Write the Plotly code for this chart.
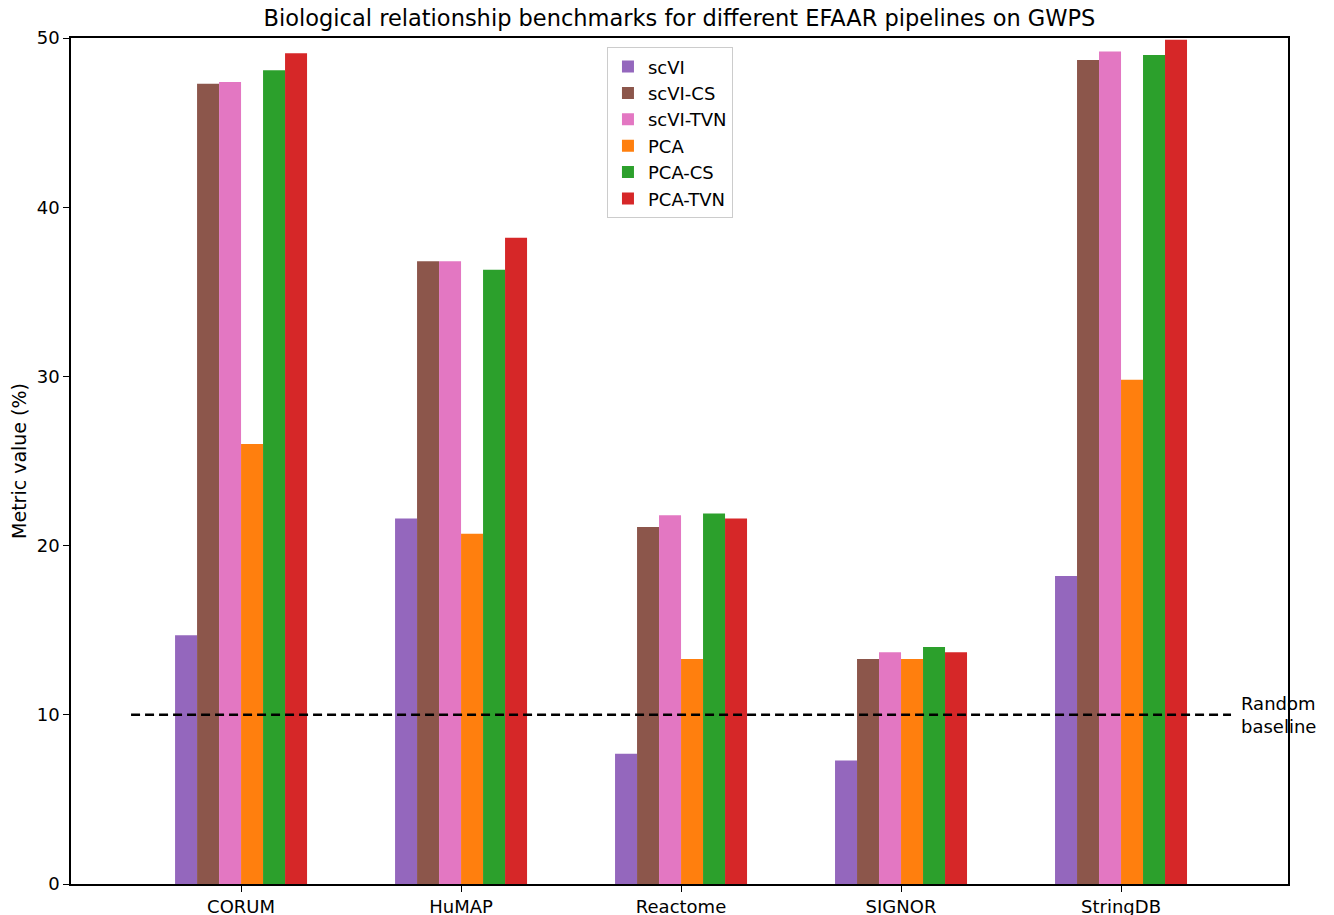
import plotly.graph_objects as go

categories = ["CORUM", "HuMAP", "Reactome", "SIGNOR", "StringDB"]
series_names = ["scVI", "scVI-CS", "scVI-TVN", "PCA", "PCA-CS", "PCA-TVN"]
scVI = [14.7, 21.6, 7.7, 7.3, 18.2]
scVI_CS = [47.3, 36.8, 21.1, 13.3, 48.7]
scVI_TVN = [47.4, 36.8, 21.8, 13.7, 49.2]
PCA = [26.0, 20.7, 13.3, 13.3, 29.8]
PCA_CS = [48.1, 36.3, 21.9, 14.0, 49.0]
PCA_TVN = [49.1, 38.2, 21.6, 13.7, 49.9]
random_baseline = 10
colors = ["#9467bd", "#8c564b", "#e377c2", "#ff7f0e", "#2ca02c", "#d62728"]

series_values = [scVI, scVI_CS, scVI_TVN, PCA, PCA_CS, PCA_TVN]
FONT = "DejaVu Sans"
x = list(range(len(categories)))

W, H = 1326, 907  # page body has an 8px margin
fig = go.Figure()
for name, vals, col in zip(series_names, series_values, colors):
    fig.add_trace(go.Bar(x=x, y=vals, name=name, marker=dict(color=col, line=dict(width=0))))

fig.add_shape(type="line", xref="x", yref="y", x0=-0.5, x1=len(categories) - 0.5,
              y0=random_baseline, y1=random_baseline,
              line=dict(color="black", width=2.5, dash="9px,5px"))
fig.add_annotation(x=len(categories) - 0.5 + 0.036, y=random_baseline, xref="x", yref="y",
                   text="Random<br>baseline", showarrow=False, xanchor="left", yanchor="middle",
                   align="left", font=dict(family=FONT, size=18, color="black"))

fig.update_layout(
    width=W, height=H,
    margin=dict(l=63, r=46, t=30, b=31, autoexpand=False),
    paper_bgcolor="white", plot_bgcolor="white",
    barmode="group", bargap=0.4, bargroupgap=0,
    font=dict(family=FONT, size=18, color="black"),
    title=dict(text="Biological relationship benchmarks for different EFAAR pipelines on GWPS",
               x=(63 + W - 46) / 2 / W, xanchor="center", y=1 - 10 / H, yanchor="middle",
               font=dict(family=FONT, size=22.5, color="black")),
    legend=dict(x=0.4404, y=0.989, xanchor="left", yanchor="top",
                bordercolor="#cccccc", borderwidth=1, bgcolor="rgba(255,255,255,0.8)",
                font=dict(family=FONT, size=18), traceorder="normal"),
    showlegend=True,
)
fig.update_xaxes(range=[-0.773, 4.759], tickmode="array", tickvals=x, ticktext=categories,
                 showline=True, linecolor="black", linewidth=1.5, mirror=True,
                 ticks="outside", ticklen=6, tickwidth=1.2, tickcolor="black",
                 showgrid=False, zeroline=False, tickfont=dict(size=18), automargin=False)
fig.update_yaxes(range=[0, 50], tickvals=[0, 10, 20, 30, 40, 50],
                 showline=True, linecolor="black", linewidth=1.5, mirror=True,
                 ticks="outside", ticklen=6, tickwidth=1.2, tickcolor="black",
                 showgrid=False, zeroline=False, tickfont=dict(size=18), automargin=False,
                 title=dict(text="Metric value (%)", font=dict(size=19), standoff=14))

fig.write_html("out.html")
